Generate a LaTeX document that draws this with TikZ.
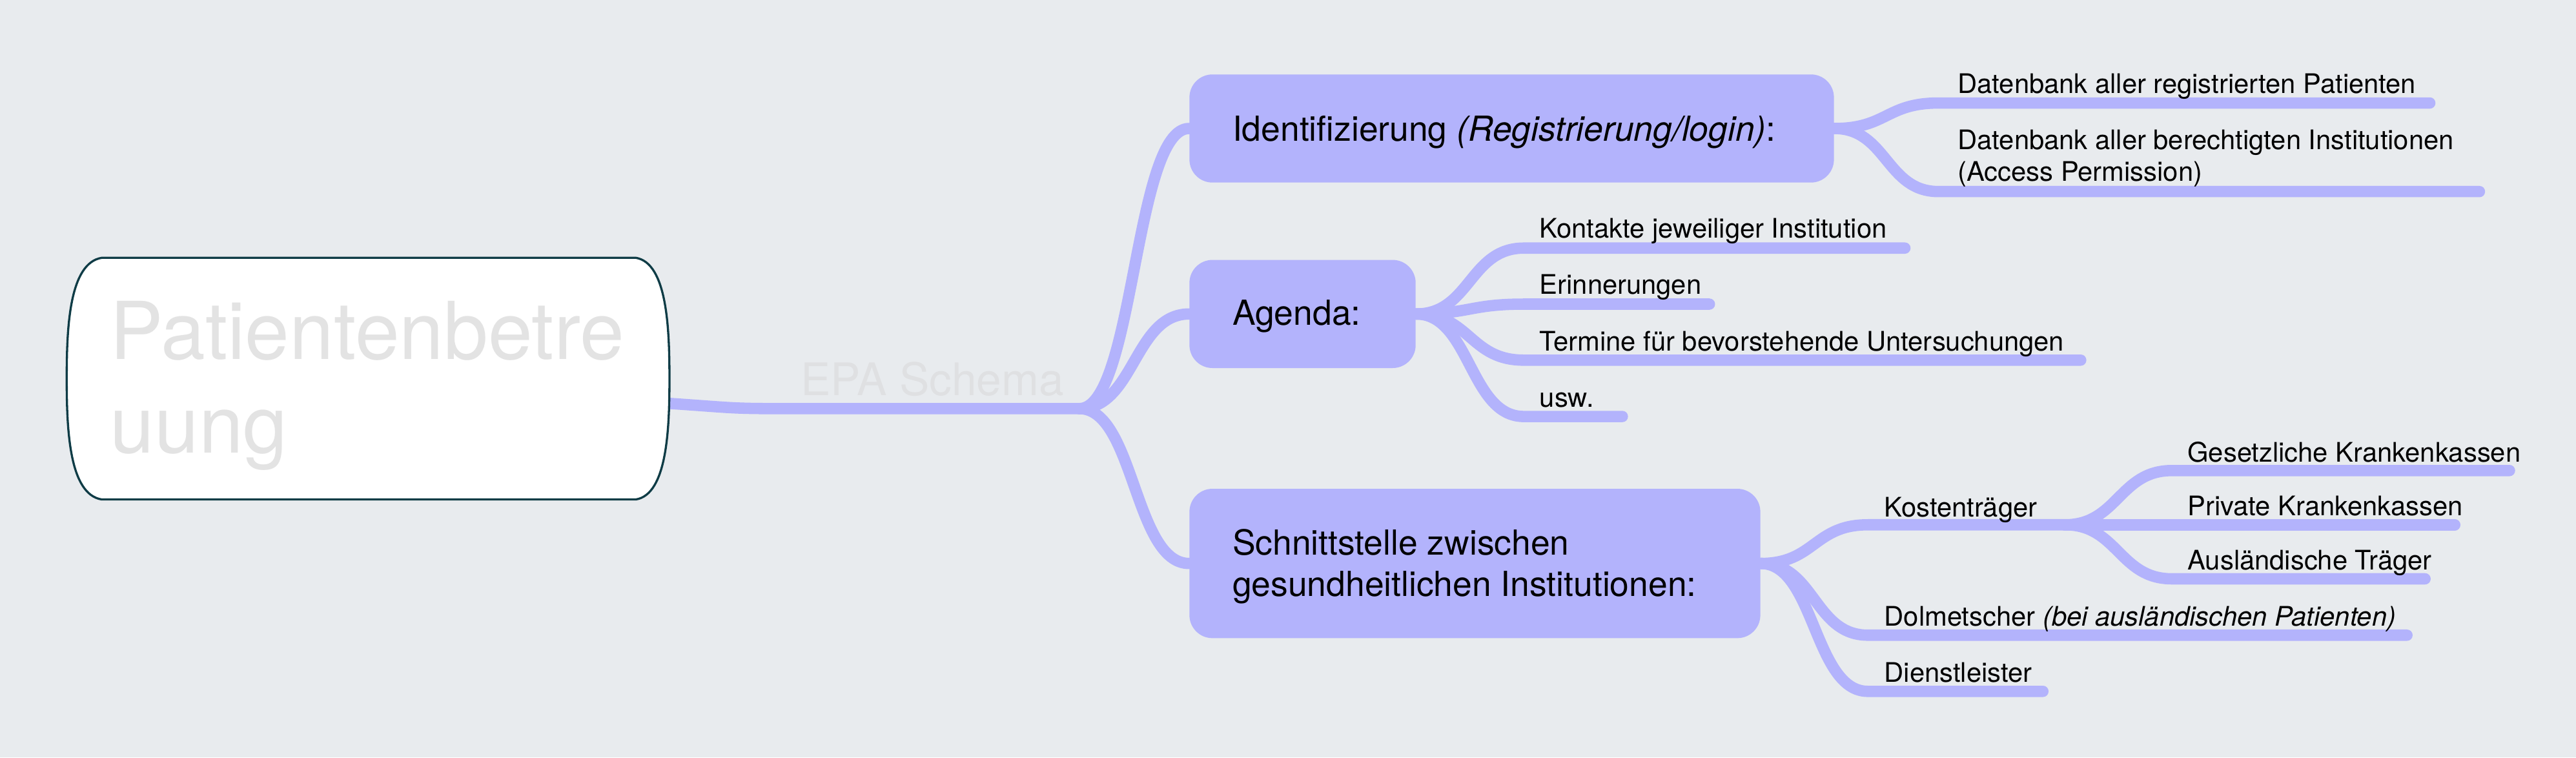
\documentclass[tikz,border=0pt]{standalone}
\usepackage{fontspec}
\setmainfont{TeX Gyre Heros}
\definecolor{bg}{HTML}{E8EBEE}
\definecolor{lav}{HTML}{B3B3FC}
\definecolor{rim}{HTML}{0F3C46}
\definecolor{ghost}{HTML}{E3E3E3}
\definecolor{faint}{HTML}{DFE0E2}
\tikzset{
  conn/.style={draw=lav, line width=6.9pt, line cap=round},
  mainbox/.style={fill=lav, draw=none, rounded corners=14pt, inner sep=0pt},
  maintext/.style={anchor=base west, inner sep=0pt, align=left, font=\fontsize{21}{25.5}\selectfont},
  leaftext/.style={anchor=base west, inner sep=0pt, align=left, font=\fontsize{16.4}{19.6}\selectfont},
}
\begin{document}
\begin{tikzpicture}[x=1pt,y=-1pt]
% background
\fill[bg] (0,0) rectangle (1568,460.97);
\useasboundingbox (0,0) rectangle (1568,460.97);

% named places
\node[inner sep=0pt, minimum width=366.9pt, minimum height=147.1pt] (central) at (224.05,230.45) {};
\coordinate (cE) at ([yshift=-15.1pt]central.east);
\coordinate (hub) at (657,248.7);

% main boxes
\node[mainbox, minimum width=392.3pt, minimum height=65.8pt] (ident) at (920.15,78.2) {};
\node[mainbox, minimum width=137.7pt, minimum height=65.8pt] (agenda) at (792.85,191.1) {};
\node[mainbox, minimum width=347.5pt, minimum height=90.9pt] (schnitt) at (897.75,342.95) {};

% leaf bar coordinates
\coordinate (i1a) at (1180,62.7);   \coordinate (i1b) at (1479,62.7);
\coordinate (i2a) at (1180,116.6);  \coordinate (i2b) at (1509.2,116.6);
\coordinate (a1a) at (927.5,151);   \coordinate (a1b) at (1159.5,151);
\coordinate (a2a) at (927.5,185.1); \coordinate (a2b) at (1040.5,185.1);
\coordinate (a3a) at (927.5,219.2); \coordinate (a3b) at (1266.5,219.2);
\coordinate (a4a) at (927.5,253.5); \coordinate (a4b) at (987.5,253.5);
\coordinate (s1a) at (1137,319.4);  \coordinate (khub) at (1257,319.4);
\coordinate (s2a) at (1137,386.6);  \coordinate (s2b) at (1465.1,386.6);
\coordinate (s3a) at (1137,420.8);  \coordinate (s3b) at (1243.5,420.8);
\coordinate (k1a) at (1322,286.4);  \coordinate (k1b) at (1527.5,286.4);
\coordinate (k2a) at (1322,319.4);  \coordinate (k2b) at (1494.2,319.4);
\coordinate (k3a) at (1322,352.3);  \coordinate (k3b) at (1476.1,352.3);

% trunk
\draw[conn] (cE) .. controls +(38,2.6) and +(-30,0) .. (475,248.7) -- (hub);
% main branches
\draw[conn] (hub) .. controls +(33.5,0) and +(-33.5,0) .. (ident.west);
\draw[conn] (hub) .. controls +(33.5,0) and +(-33.5,0) .. (agenda.west);
\draw[conn] (hub) .. controls +(33.5,0) and +(-33.5,0) .. (schnitt.west);
% identifizierung leaves
\draw[conn] (ident.east) .. controls +(32,0) and +(-32,0) .. (i1a) -- (i1b);
\draw[conn] (ident.east) .. controls +(32,0) and +(-32,0) .. (i2a) -- (i2b);
% agenda leaves
\draw[conn] (agenda.east) .. controls +(33,0) and +(-33,0) .. (a1a) -- (a1b);
\draw[conn] (agenda.east) .. controls +(33,0) and +(-33,0) .. (a2a) -- (a2b);
\draw[conn] (agenda.east) .. controls +(33,0) and +(-33,0) .. (a3a) -- (a3b);
\draw[conn] (agenda.east) .. controls +(33,0) and +(-33,0) .. (a4a) -- (a4b);
% schnittstelle leaves
\draw[conn] (schnitt.east) .. controls +(33,0) and +(-33,0) .. (s1a) -- (khub);
\draw[conn] (schnitt.east) .. controls +(33,0) and +(-33,0) .. (s2a) -- (s2b);
\draw[conn] (schnitt.east) .. controls +(33,0) and +(-33,0) .. (s3a) -- (s3b);
% kostentraeger sub-leaves
\draw[conn] (khub) .. controls +(32,0) and +(-32,0) .. (k1a) -- (k1b);
\draw[conn] (khub) -- (k2a) -- (k2b);
\draw[conn] (khub) .. controls +(32,0) and +(-32,0) .. (k3a) -- (k3b);

% central barrel shape
\draw[fill=white, draw=rim, line width=1.3pt]
  (62,156.9) -- (387,156.9)
  .. controls (406.1,160) and (407.5,200) .. (407.5,230.5)
  .. controls (407.5,261) and (406.1,301) .. (387,304)
  -- (62,304)
  .. controls (42,301) and (40.6,261) .. (40.6,230.5)
  .. controls (40.6,200) and (42,160) .. (62,156.9) -- cycle;

% texts (multi-line nodes: base anchor = last line's baseline)
\node[anchor=base west, inner sep=0pt, align=left, text=ghost, font=\fontsize{48.6}{56.9}\selectfont] (centraltext) at (66.8,275.7) {Patientenbetre\\uung};
\node[anchor=base west, inner sep=0pt, text=faint, font=\fontsize{27.3}{32}\selectfont] (epa) at (487.3,240.5) {EPA Schema};

\node[maintext] (identtext) at (750,85.9) {Identifizierung \textit{(Registrierung/login)}:};
\node[maintext] (agendatext) at (750,197.7) {Agenda:};
\node[maintext] (schnitttext) at (750,363.1) {Schnittstelle zwischen\\gesundheitlichen Institutionen:};

\node[leaftext] (t1) at (1191.5,56.7) {Datenbank aller registrierten Patienten};
\node[leaftext] (t2) at (1191.5,110.4) {Datenbank aller berechtigten Institutionen\\(Access Permission)};
\node[leaftext] (t3) at (937,145) {Kontakte jeweiliger Institution};
\node[leaftext] (t4) at (937,179.1) {Erinnerungen};
\node[leaftext] (t5) at (937,213.4) {Termine für bevorstehende Untersuchungen};
\node[leaftext] (t6) at (937,247.6) {usw.};
\node[leaftext] (t7) at (1146.8,314.4) {Kostenträger};
\node[leaftext] (t8) at (1331.4,281) {Gesetzliche Krankenkassen};
\node[leaftext] (t9) at (1331.4,313.7) {Private Krankenkassen};
\node[leaftext] (t10) at (1331.4,346.7) {Ausländische Träger};
\node[leaftext] (t11) at (1146.8,380.9) {Dolmetscher \textit{(bei ausländischen Patienten)}};
\node[leaftext] (t12) at (1146.8,415.3) {Dienstleister};
\end{tikzpicture}
\end{document}
